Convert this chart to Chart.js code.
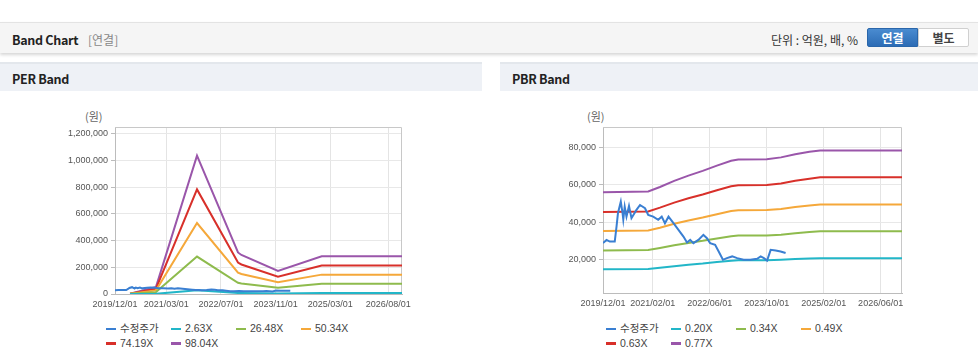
<!DOCTYPE html>
<html>
<head>
<meta charset="utf-8">
<script src="https://cdn.jsdelivr.net/npm/chart.js@4.4.0/dist/chart.umd.min.js"></script>
<style>
  body { margin: 0; width: 978px; height: 361px; overflow: hidden; position: relative; background: #fff;
         font-family: "Liberation Sans", "Noto Sans CJK KR", sans-serif; color: #333; }
  .topbar { position: absolute; left: 0; top: 22px; width: 978px; height: 30px; background: #f5f5f5;
            border-top: 1px solid #e3e3e3; box-shadow: 0 2px 3px rgba(0,0,0,0.16); }
  .topbar .ttl { position: absolute; left: 12px; top: 7px; font: bold 12.5px "Noto Sans CJK KR", sans-serif; color: #222; letter-spacing: -0.3px; }
  .topbar .sub { position: absolute; left: 88px; top: 8px; font: 12px "Noto Sans CJK KR", sans-serif; color: #888; }
  .topbar .unit { position: absolute; left: 771px; top: 8px; font: 12px "Noto Sans CJK KR", sans-serif; color: #333; }
  .btn { position: absolute; top: 5px; height: 19px; width: 51px; box-sizing: border-box; text-align: center;
         font: bold 12px/17px "Noto Sans CJK KR", sans-serif; }
  .btn.on { left: 867px; background: linear-gradient(#4a8bd0, #2c6cb5); color: #fff; border: 1px solid #2a66aa; border-radius: 2px 0 0 2px; }
  .btn.off { left: 918px; background: #fff; color: #444; border: 1px solid #d0d0d0; border-radius: 0 2px 2px 0; }
  .phead { position: absolute; top: 62px; height: 29px; background: #eef1f6; border-top: 2px solid #e3e7ec; box-sizing: border-box; }
  .phead span { position: absolute; left: 12px; top: 5px; font: bold 12.5px "Noto Sans CJK KR", sans-serif; color: #222; letter-spacing: -0.3px; }
  .unitlbl { position: absolute; top: 108px; font: 11px "Noto Sans CJK KR", sans-serif; color: #666; }
  canvas { position: absolute; }
  .legend { position: absolute; top: 321px; width: 270px; font: 10.5px "Liberation Sans", "Noto Sans CJK KR", sans-serif; color: #444; }
  .legend div { display: inline-block; width: 65px; height: 14.5px; line-height: 14.5px; white-space: nowrap; }
  .legend i { display: inline-block; width: 10px; height: 2.5px; vertical-align: middle; margin-right: 4px; }
</style>
</head>
<body>
<div class="topbar">
  <span class="ttl">Band Chart</span><span class="sub">[연결]</span>
  <span class="unit">단위 : 억원, 배, %</span>
  <div class="btn on">연결</div><div class="btn off">별도</div>
</div>
<div class="phead" style="left:0;width:482px"><span>PER Band</span></div>
<div class="phead" style="left:500px;width:478px"><span>PBR Band</span></div>
<span class="unitlbl" style="left:85px">(원)</span>
<span class="unitlbl" style="left:587px">(원)</span>
<canvas id="perChart" width="482" height="215" style="left:0;top:95px"></canvas>
<canvas id="pbrChart" width="478" height="214" style="left:500px;top:95px"></canvas>
<div class="legend" id="perLegend" style="left:106px"></div>
<div class="legend" id="pbrLegend" style="left:606px"></div>

<script>
// x 값은 2019/12/01 부터의 개월 수
const colors = ['#3a7fd2', '#22b6c8', '#8ebb4d', '#f5a83a', '#d8302a', '#9a56aa'];

// 수정주가 (원)
const priceMonths = [0, 1, 1.9, 3.3, 3.8, 4.2, 5, 5.5, 5.7, 6.1, 6.6, 7.3, 8, 9.4, 10.4, 11.8, 12.7, 14.1, 15.5, 16.5,
  17.4, 18.4, 19.8, 21.2, 22.6, 23.6, 24.5, 25.4, 26.8, 28.2, 29.2, 30.1, 31.5, 32.5, 33.7, 34.8, 36.3, 37.7,
  39.5, 41.4, 43.3, 44.3, 45.2, 46.1, 47.1, 48.5, 49.9, 51.3];
const priceValues = [28900, 30600, 29700, 29700, 37700, 44800, 51000, 44800, 41500, 48300, 43000, 48700, 42200, 46600,
  49200, 47500, 43900, 43000, 41300, 43000, 39500, 43000, 39500, 36000, 32400, 29200, 30600, 28900, 30600, 33300,
  31500, 28900, 28000, 24400, 20000, 20900, 21800, 20900, 20000, 20000, 20500, 21800, 20900, 19600, 25300, 25000,
  24400, 23600];

// PER 밴드
const perLabels = ['수정주가', '2.63X', '26.48X', '50.34X', '74.19X', '98.04X'];
const perBandMonths = [4.4, 12, 24, 36, 37, 47.7, 60.5, 84];
const per263 = [0, 1400, 28000, 8300, 7800, 4600, 7600, 7600];
const per2648 = [1000, 14000, 280000, 84000, 79000, 46000, 76000, 76000];
const per5034 = [1500, 27000, 531000, 160000, 150000, 88000, 145000, 145000];
const per7419 = [2000, 40000, 783000, 235000, 221000, 130000, 214000, 214000];
const per9804 = [3000, 53000, 1035000, 311000, 292000, 172000, 283000, 283000];
const perXTicks = ['2019/12/01', '2021/03/01', '2022/07/01', '2023/11/01', '2025/03/01', '2026/08/01'];
const perYTicks = [0, 200000, 400000, 600000, 800000, 1000000, 1200000];

// PBR 밴드
const pbrLabels = ['수정주가', '0.20X', '0.34X', '0.49X', '0.63X', '0.77X'];
const pbrBandMonths = [0, 12.7, 16, 20, 24, 28, 32, 36, 38, 46, 50, 54, 58, 61, 84];
const pbr020 = [15000, 15100, 15800, 16600, 17400, 18000, 18800, 19500, 19700, 19700, 20000, 20400, 20700, 20800, 20800];
const pbr034 = [25000, 25200, 26300, 27800, 29000, 30100, 31400, 32600, 32900, 33000, 33400, 34200, 34800, 35200, 35200];
const pbr049 = [35300, 35600, 37100, 39200, 41000, 42500, 44300, 46000, 46400, 46500, 47100, 48200, 49000, 49500, 49500];
const pbr063 = [45500, 45800, 47800, 50500, 52800, 54800, 57100, 59200, 59800, 59900, 60700, 62100, 63200, 64000, 64000];
const pbr077 = [56000, 56400, 58800, 62100, 64900, 67400, 70200, 72800, 73500, 73600, 74600, 76300, 77600, 78300, 78300];
const pbrXTicks = ['2019/12/01', '2021/02/01', '2022/06/01', '2023/10/01', '2025/02/01', '2026/06/01'];
const pbrYTicks = [20000, 40000, 60000, 80000];

const toMonth = (s) => {
  const [y, m] = s.split('/').map(Number);
  return (y - 2019) * 12 + m - 12;
};
const pts = (xs, ys) => xs.map((x, i) => ({ x, y: ys[i] }));

const framePlugin = {
  id: 'frame',
  beforeDatasetsDraw(chart) {
    const { ctx, chartArea: a } = chart;
    ctx.save();
    ctx.strokeStyle = '#c8c8c8';
    ctx.lineWidth = 1;
    ctx.beginPath();
    ctx.moveTo(a.left, a.top + 0.5);
    ctx.lineTo(a.right - 0.5, a.top + 0.5);
    ctx.lineTo(a.right - 0.5, a.bottom);
    ctx.stroke();
    ctx.restore();
  }
};

function makeChart(id, labels, series, xTicks, yTicks, yMin, yMax, yWidth, padRight) {
  const datasets = series.map((s, i) => ({
    label: labels[i],
    data: s,
    borderColor: colors[i],
    borderWidth: 2,
    pointRadius: 0,
    fill: false,
    tension: 0,
    order: i === 0 ? 0 : 1,
  }));
  return new Chart(document.getElementById(id), {
    type: 'line',
    data: { datasets },
    plugins: [framePlugin],
    options: {
      responsive: false,
      animation: false,
      layout: { padding: { top: 32, right: padRight, bottom: 0, left: 0 } },
      plugins: { legend: { display: false }, tooltip: { enabled: false } },
      scales: {
        x: {
          type: 'linear', min: 0, max: 84,
          afterBuildTicks(scale) { scale.ticks = xTicks.map((t) => ({ value: toMonth(t) })); },
          afterFit(scale) { scale.height = 16; },
          ticks: { callback: (v, i) => xTicks[i], color: '#555', padding: 5, maxRotation: 0, autoSkip: false,
                   font: { family: 'Liberation Sans', size: 9 } },
          grid: { color: '#e4e4e4', drawTicks: false },
          border: { color: '#bcbcbc' },
        },
        y: {
          min: yMin, max: yMax,
          afterBuildTicks(scale) { scale.ticks = yTicks.map((v) => ({ value: v })); },
          afterFit(scale) { scale.width = yWidth; },
          ticks: { callback: (v) => v.toLocaleString('en-US'), color: '#555', padding: 3,
                   font: { family: 'Liberation Sans', size: 9 } },
          grid: { color: '#e8e8e8', tickLength: 4, tickColor: '#bcbcbc' },
          border: { color: '#bcbcbc' },
        },
      },
    },
  });
}

makeChart('perChart', perLabels,
  [pts(priceMonths, priceValues), pts(perBandMonths, per263), pts(perBandMonths, per2648),
   pts(perBandMonths, per5034), pts(perBandMonths, per7419), pts(perBandMonths, per9804)],
  perXTicks, perYTicks, 0, 1250000, 115, 80);

makeChart('pbrChart', pbrLabels,
  [pts(priceMonths, priceValues), pts(pbrBandMonths, pbr020), pts(pbrBandMonths, pbr034),
   pts(pbrBandMonths, pbr049), pts(pbrBandMonths, pbr063), pts(pbrBandMonths, pbr077)],
  pbrXTicks, pbrYTicks, 2300, 90800, 103, 76);

function legend(id, labels) {
  document.getElementById(id).innerHTML = labels
    .map((l, i) => `<div><i style="background:${colors[i]}"></i>${l}</div>`).join('');
}
legend('perLegend', perLabels);
legend('pbrLegend', pbrLabels);
</script>
</body>
</html>
